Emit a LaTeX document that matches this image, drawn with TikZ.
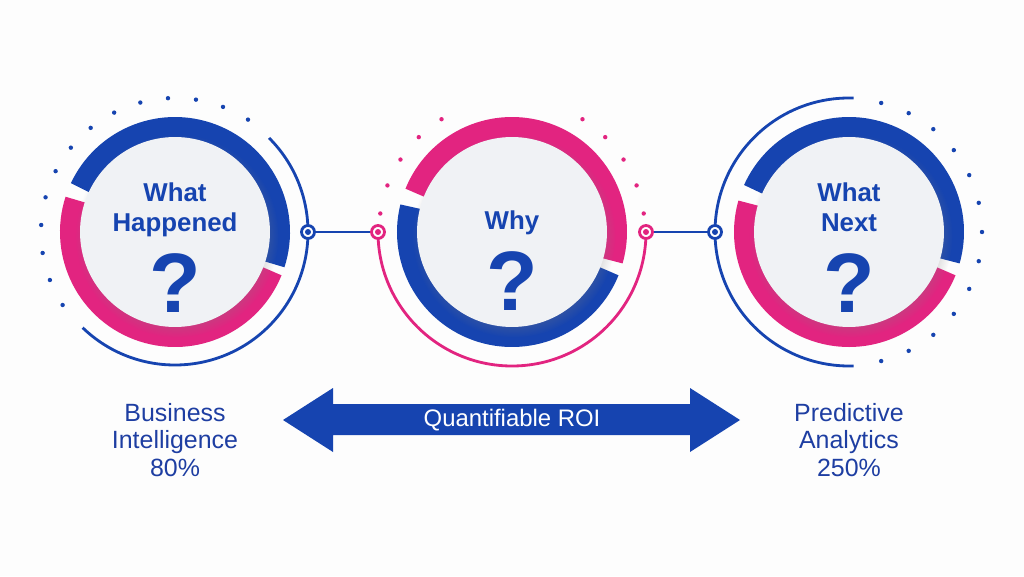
\documentclass[tikz,border=0pt]{standalone}
\usepackage{fontspec}
\setmainfont{Liberation Sans}
\usepackage{xcolor}
\usetikzlibrary{shadows,positioning}

\definecolor{ringblue}{RGB}{22,68,176}
\definecolor{ringpink}{RGB}{226,36,128}
\definecolor{textblue}{RGB}{30,62,162}
\definecolor{discgray}{RGB}{240,242,245}
\definecolor{paper}{RGB}{253,253,253}

\begin{document}
\begin{tikzpicture}[
    x=0.02cm, y=0.02cm,
    disc/.style={circle, fill=discgray, minimum size=3.8cm, inner sep=0pt,
      circular drop shadow={shadow xshift=1pt, shadow yshift=-2pt, shadow scale=1.07, opacity=0.3}},
    ring/.style={line width=12.5pt},
    orbit/.style={line width=1.6pt},
    link/.style={ringblue, line width=1.5pt},
    hub/.style={circle, draw=#1, fill=white, line width=1.6pt, minimum size=0.26cm, inner sep=0pt,
      path picture={\fill[#1] (path picture bounding box.center) circle[radius=0.06cm];}},
    title/.style={font=\bfseries\fontsize{14.7}{17}\selectfont, text=ringblue, align=center},
    qmark/.style={font=\bfseries\fontsize{48}{48}\selectfont, text=ringblue, anchor=base},
    sidetext/.style={font=\fontsize{14.2}{15.6}\selectfont, text=textblue, align=center},
    speck/.style={radius=2.2}
  ]
    \fill[paper] (0,0) rectangle (1024,576);
    \useasboundingbox (0,0) rectangle (1024,576);

    % outer thin arcs and dots
    \draw[orbit, ringblue] (175,344) ++(-134:133) arc[start angle=-134, end angle=45, radius=133];
    \draw[orbit, ringpink] (512,344) ++(180:134) arc[start angle=180, end angle=360, radius=134];
    \draw[orbit, ringblue] (849,344) ++(88:134) arc[start angle=88, end angle=272, radius=134];
    \foreach \a in {57,69,...,213}
      \fill[ringblue] (175,344) ++(\a:134) circle[speck];
    \foreach \a in {8,20.5,33,45.5,58,122,134.5,147,159.5,172}
      \fill[ringpink] (512,344) ++(\a:133) circle[speck];
    \foreach \i in {0,...,12}
      \fill[ringblue] (849,344) ++({76-\i*152/12}:133) circle[speck];

    % hubs and links
    \node[hub=ringblue] (h1) at (308,344) {};
    \node[hub=ringpink] (h2) at (378,344) {};
    \node[hub=ringpink] (h3) at (646,344) {};
    \node[hub=ringblue] (h4) at (715,344) {};
    \draw[link] (h1) -- (h2);
    \draw[link] (h3) -- (h4);

    % rings
    \draw[ring, ringblue] (175,344) ++(-18:104) arc[start angle=-18, end angle=155, radius=104];
    \draw[ring, ringpink] (175,344) ++(162:104) arc[start angle=162, end angle=338, radius=104];
    \draw[ring, ringpink] (512,344) ++(-16:104) arc[start angle=-16, end angle=158, radius=104];
    \draw[ring, ringblue] (512,344) ++(166:104) arc[start angle=166, end angle=338, radius=104];
    \draw[ring, ringblue] (849,344) ++(-16:104) arc[start angle=-16, end angle=156, radius=104];
    \draw[ring, ringpink] (849,344) ++(164:104) arc[start angle=164, end angle=338, radius=104];

    % discs
    \node[disc] (what) at (175,344) {};
    \node[disc] (why) at (512,344) {};
    \node[disc] (next) at (849,344) {};

    \node[title] (whattitle) at (175,366) {What\\Happened};
    \node[title] (whytitle) at (512,353) {Why};
    \node[title] (nexttitle) at (849,369) {What\\Next};
    \node[qmark] (whatq) at (175,264) {?};
    \node[qmark] (whyq) at (512,266) {?};
    \node[qmark] (nextq) at (849,264) {?};

    % bottom
    \node[sidetext] (bi) at (175,136) {Business\\Intelligence\\80\%};
    \node[sidetext] (pa) at (849,136) {Predictive\\Analytics\\250\%};
    \fill[ringblue] (283,156) -- (333,188) -- (333,172) -- (690,172) -- (690,188) -- (740,156)
      -- (690,124) -- (690,141) -- (333,141) -- (333,124) -- cycle;
    \node[font=\fontsize{13.6}{15}\selectfont, text=white] (roi) at (512,156) {Quantifiable ROI};
\end{tikzpicture}
\end{document}
